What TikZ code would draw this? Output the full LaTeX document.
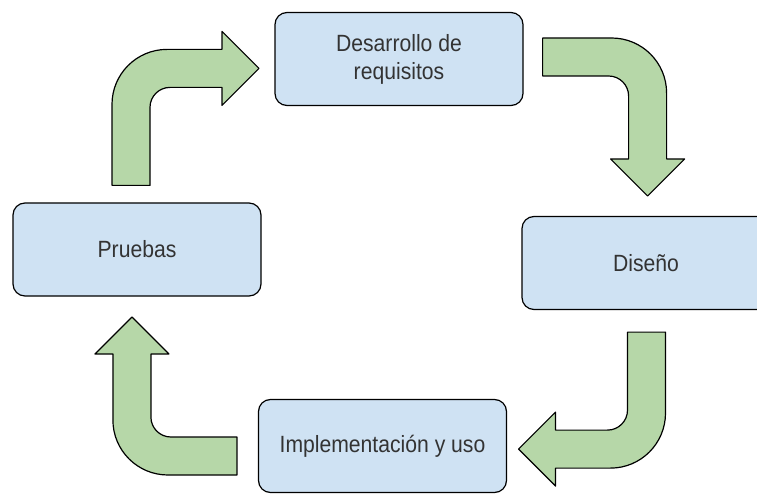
\documentclass[tikz,border=0pt]{standalone}
\usepackage{fontspec}
\setmainfont{Liberation Sans}[FakeStretch=0.9]
\usepackage{tikz}
\usetikzlibrary{calc}
\usetikzlibrary{positioning}
\definecolor{boxblue}{HTML}{CFE2F3}
\definecolor{arrowgreen}{HTML}{B6D7A8}
\definecolor{txtgray}{HTML}{333333}
\tikzset{
  phase/.style={draw=black,line width=1.2pt,fill=boxblue,rounded corners=12pt,
    minimum width=248pt,minimum height=93pt,align=center,text=txtgray,
    font=\fontsize{23.5}{28}\selectfont},
  pics/bentarrow/.style 2 args={code={
    \draw[draw=black,line width=1.2pt,fill=arrowgreen,line join=round]
      (-19,0) -- ({-19},{#1-55}) arc (180:90:55pt) -- ({#2-56},{#1})
      -- ({#2-56},{#1+18}) -- ({#2-19},{#1-19}) -- ({#2-56},{#1-56})
      -- ({#2-56},{#1-38}) -- (39,{#1-38}) arc (90:180:20pt) -- (19,0) -- cycle;
  }}
}
\begin{document}
\begin{tikzpicture}[x=1pt,y=1pt]
  \clip (0,0) rectangle (757,493);

  % phases
  \node[phase] (des) at (399,434) {Desarrollo de\\requisitos};
  \node[phase] (dis) at (646,230) {Diseño};
  \node[phase] (imp) at (382.5,47) {Implementación y uso};
  \node[phase] (pru) at (137,243.5) {Pruebas};

  % arrows
  \pic at ($(pru.north)+(-6,17)$) {bentarrow={136}{147}};
  \pic[rotate=-90] at ($(des.east)+(19,2)$) {bentarrow={124}{158}};
  \pic[rotate=180] at ($(dis.south)+(0.5,-22)$) {bentarrow={136}{147}};
  \pic[rotate=90] at ($(imp.west)+(-21,-10)$) {bentarrow={124}{158}};

\end{tikzpicture}
\end{document}
